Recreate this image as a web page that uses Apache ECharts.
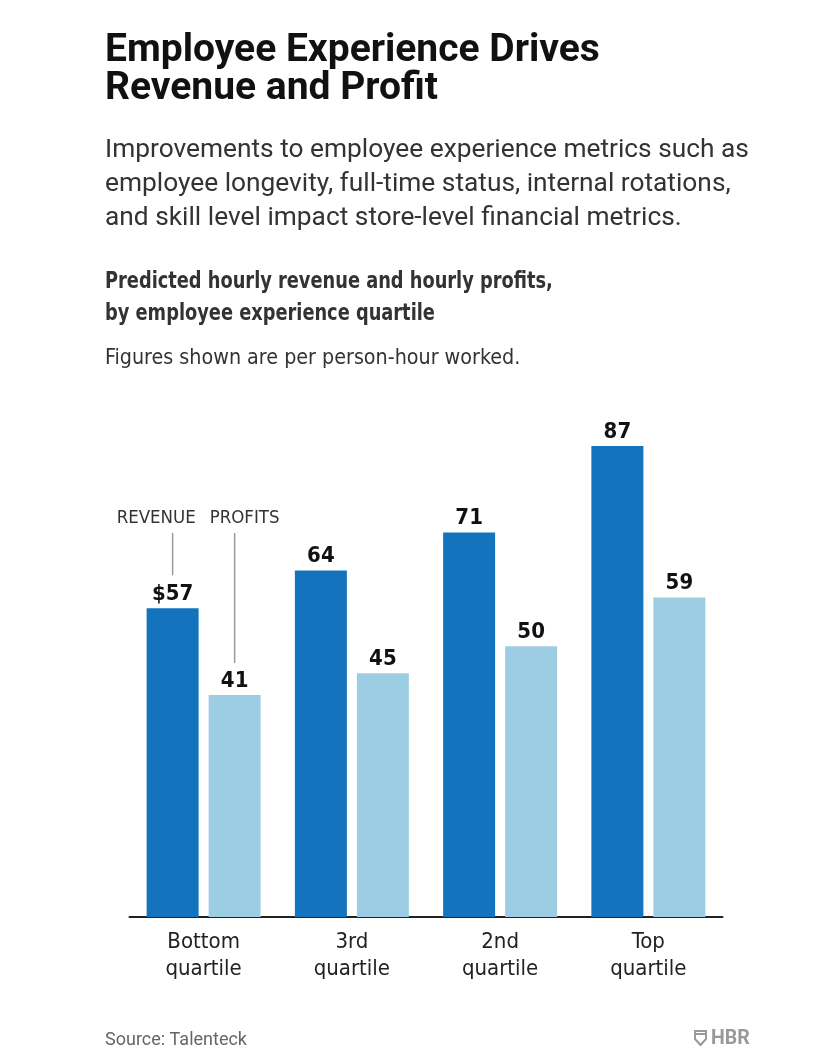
<!DOCTYPE html>
<html lang="en">
<head>
    <meta charset="UTF-8">
    <title>Employee Experience Drives Revenue and Profit</title>
    <style type="text/css">
        html, body { margin: 0; padding: 0; background: #fff; }
        #chart { width: 822px; height: 1062px; }
    </style>
</head>
<body>
<div id="chart"></div>
<script src="https://cdn.jsdelivr.net/npm/echarts@6/dist/echarts.min.js"></script>
<script type="text/javascript">
    // data
    var categories = ['Bottom\nquartile', '3rd\nquartile', '2nd\nquartile', 'Top\nquartile'];
    var revenue = [57, 64, 71, 87];
    var profits = [41, 45, 50, 59];

    var narrow = '"Liberation Sans Narrow", "DejaVu Sans Condensed", "Roboto", sans-serif';
    var BAR_W = 52, BAR_GAP = 10;

    // header / footer text, drawn as graphic text so it can be narrowed a bit
    function txt(x, y, text, font, color, lh, sx) {
        return {
            type: 'text', x: x, y: y, scaleX: sx || 1,
            style: { text: text, font: font, fill: color, lineHeight: lh, verticalAlign: 'top' }
        };
    }

    var myChart = echarts.init(document.getElementById('chart'));
    var option = {
        backgroundColor: '#fff',
        animation: false,
        grid: { left: 129.5, right: 99.5, top: 375.5, bottom: 145 },
        xAxis: {
            type: 'category',
            data: categories,
            axisLine: { lineStyle: { color: '#222', width: 2 } },
            axisTick: { show: false },
            axisLabel: { fontFamily: narrow, fontSize: 22, lineHeight: 27, color: '#222', margin: 12 }
        },
        yAxis: {
            type: 'value', min: 0, max: 100,
            show: false
        },
        series: [{
            name: 'Revenue',
            type: 'bar',
            data: revenue,
            barWidth: BAR_W,
            barGap: (BAR_GAP / BAR_W * 100) + '%',
            itemStyle: { color: '#1374bd' },
            label: {
                show: true, position: 'top', distance: 3,
                fontFamily: narrow, fontWeight: 'bold', fontSize: 22, color: '#111',
                formatter: function (p) { return p.dataIndex === 0 ? '$' + p.value : p.value; }
            }
        }, {
            name: 'Profits',
            type: 'bar',
            data: profits,
            barWidth: BAR_W,
            itemStyle: { color: '#9dcde3' },
            label: {
                show: true, position: 'top', distance: 3,
                fontFamily: narrow, fontWeight: 'bold', fontSize: 22, color: '#111'
            }
        }]
    };
    myChart.setOption(option);

    // series annotations placed from the first pair of bars
    var half = (BAR_W + BAR_GAP) / 2;
    var p0 = myChart.convertToPixel({ xAxisIndex: 0, yAxisIndex: 0 }, [0, revenue[0]]);
    var p1 = myChart.convertToPixel({ xAxisIndex: 0, yAxisIndex: 0 }, [0, profits[0]]);
    var revX = p0[0] - half, proX = p0[0] + half;
    myChart.setOption({
        graphic: [
            txt(105, 32, 'Employee Experience Drives\nRevenue and Profit', 'bold 39px Roboto', '#111', 38),
            txt(105, 133, 'Improvements to employee experience metrics such as\nemployee longevity, full-time status, internal rotations,\nand skill level impact store-level financial metrics.', '26.3px Roboto', '#333', 34),
            txt(105, 266, 'Predicted hourly revenue and hourly profits,\nby employee experience quartile', 'bold 23px ' + narrow, '#333', 32, 0.86),
            txt(105, 345, 'Figures shown are per person-hour worked.', '21.3px ' + narrow, '#333', 26),
            txt(105, 1030, 'Source: Talenteck', '18px Roboto', '#666', 20),
            txt(revX - 56, 508, 'REVENUE', '18.5px ' + narrow, '#333', 20),
            txt(proX - 25, 508, 'PROFITS', '18.5px ' + narrow, '#333', 20),
            { type: 'line', shape: { x1: revX, y1: 533, x2: revX, y2: p0[1] - 33 }, style: { stroke: '#999', lineWidth: 1.5 } },
            { type: 'line', shape: { x1: proX, y1: 533, x2: proX, y2: p1[1] - 32 }, style: { stroke: '#999', lineWidth: 1.5 } },
            // HBR logo
            { type: 'polygon', shape: { points: [[695, 1031], [706, 1031], [706, 1039], [700.5, 1045], [695, 1039]] }, style: { fill: 'none', stroke: '#999', lineWidth: 2 } },
            { type: 'line', shape: { x1: 695, y1: 1034, x2: 706, y2: 1034 }, style: { stroke: '#999', lineWidth: 2 } },
            txt(711, 1029, 'HBR', 'bold 19.5px Roboto', '#999', 20)
        ]
    });
</script>
</body>
</html>
